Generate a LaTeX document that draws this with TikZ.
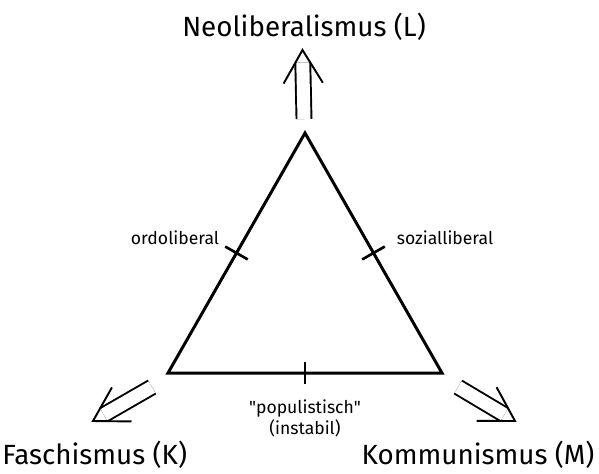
\documentclass[tikz,border=0pt]{standalone}
\usepackage{fontspec}
\setmainfont{Fira Sans}
\usetikzlibrary{calc}
\begin{document}
\begin{tikzpicture}[line join=miter,
    big/.style={font=\fontsize{15.8}{18}\selectfont},
    small/.style={font=\fontsize{10}{12}\selectfont, align=center, inner sep=0pt},
    shaft/.style={double, double distance=7.4pt, line width=1.1pt},
    head/.style={line width=1.1pt}]
\useasboundingbox (0,0) rectangle (11.98,-9.46);
% corners
\coordinate (L) at (6.1,-2.66);
\coordinate (K) at (3.36,-7.46);
\coordinate (M) at (8.84,-7.46);
% triangle
\draw[line width=1.7pt] (L) -- (K) -- (M) -- cycle;
% ticks
\coordinate (LK) at ($(L)!0.5!(K)$);
\coordinate (LM) at ($(L)!0.5!(M)$);
\coordinate (KM) at ($(K)!0.5!(M)$);
\draw[line width=1.5pt] ($(LK)!0.26cm!90:(K)$) -- ($(LK)!0.26cm!-90:(K)$);
\draw[line width=1.5pt] ($(LM)!0.26cm!90:(M)$) -- ($(LM)!0.26cm!-90:(M)$);
\draw[line width=1.5pt] ($(KM)!0.22cm!90:(M)$) -- ($(KM)!0.22cm!-90:(M)$);
% arrows outward
\coordinate (Lfoot) at (6.08,-2.38);
\coordinate (Ltip) at (6.05,-1.0);
\coordinate (Kfoot) at (3.04,-7.74);
\coordinate (Ktip) at (1.86,-8.42);
\coordinate (Mfoot) at (9.16,-7.74);
\coordinate (Mtip) at (10.3,-8.42);
\draw[shaft] (Lfoot) -- ($(Ltip)!0.25cm!(Lfoot)$);
\draw[shaft] (Kfoot) -- ($(Ktip)!0.25cm!(Kfoot)$);
\draw[shaft] (Mfoot) -- ($(Mtip)!0.25cm!(Mfoot)$);
\draw[head] ($(Ltip)!0.77cm!30.6:(Lfoot)$) -- (Ltip) -- ($(Ltip)!0.77cm!-30.6:(Lfoot)$);
\draw[head] ($(Ktip)!0.77cm!30.6:(Kfoot)$) -- (Ktip) -- ($(Ktip)!0.77cm!-30.6:(Kfoot)$);
\draw[head] ($(Mtip)!0.77cm!30.6:(Mfoot)$) -- (Mtip) -- ($(Mtip)!0.77cm!-30.6:(Mfoot)$);
% labels
\node[big] (neo) at (6.08,-0.54) {Neoliberalismus (L)};
\node[big, anchor=west, inner sep=0pt] (fasch) at (0.04,-9.1) {Faschismus (K)};
\node[big] (komm) at (9.56,-9.1) {Kommunismus (M)};
\node[small] (ordo) at (3.5,-4.76) {ordoliberal};
\node[small] (sozial) at (8.9,-4.76) {sozialliberal};
\node[small] (popu) at (6.1,-8.37) {\textquotedbl populistisch\textquotedbl\\(instabil)};
\end{tikzpicture}
\end{document}
